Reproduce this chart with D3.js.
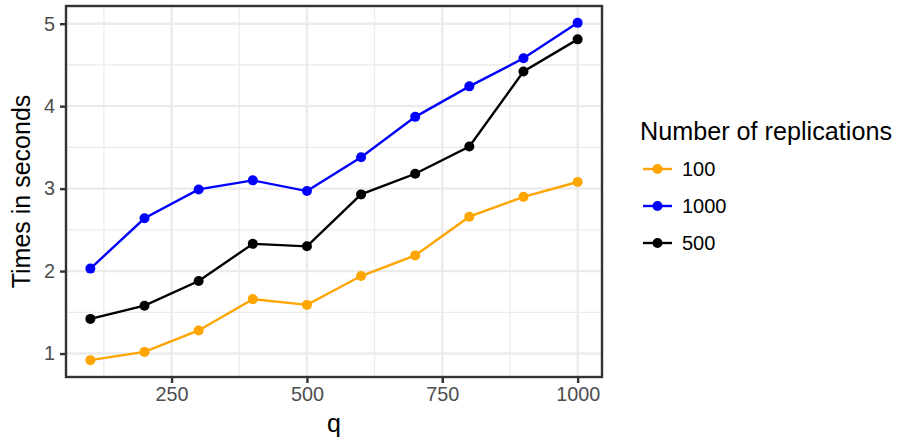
<!DOCTYPE html>
<html>
<head>
<meta charset="utf-8">
<script src="https://cdn.jsdelivr.net/npm/d3@7"></script>
<style>
  body { margin: 0; background: #fff; }
  svg { display: block; font-family: "Liberation Sans", Arial, sans-serif; }
</style>
</head>
<body>
<svg width="898" height="443"></svg>
<script>
// data
var q = [100, 200, 300, 400, 500, 600, 700, 800, 900, 1000];
var times100 = [0.92, 1.02, 1.28, 1.66, 1.59, 1.94, 2.19, 2.66, 2.90, 3.08];
var times1000 = [2.03, 2.64, 2.99, 3.10, 2.97, 3.38, 3.87, 4.24, 4.58, 5.01];
var times500 = [1.42, 1.58, 1.88, 2.33, 2.30, 2.93, 3.18, 3.51, 4.42, 4.81];
var seriesNames = ["100", "1000", "500"];
var seriesColors = ["orange", "blue", "black"];
var xTicks = [250, 500, 750, 1000];
var xMinor = [125, 375, 625, 875];
var yTicks = [1, 2, 3, 4, 5];
var yMinor = [1.5, 2.5, 3.5, 4.5];

var series = [
  { name: seriesNames[0], color: seriesColors[0], values: times100 },
  { name: seriesNames[1], color: seriesColors[1], values: times1000 },
  { name: seriesNames[2], color: seriesColors[2], values: times500 }
];

var svg = d3.select("svg");
var pLeft = 66, pRight = 602, pTop = 6, pBottom = 377;

// ggplot style 5% expansion
var xPad = (d3.max(q) - d3.min(q)) * 0.05;
var allY = times100.concat(times1000, times500);
var yPad = (d3.max(allY) - d3.min(allY)) * 0.05;

var x = d3.scaleLinear()
  .domain([d3.min(q) - xPad, d3.max(q) + xPad])
  .range([pLeft, pRight]);
var y = d3.scaleLinear()
  .domain([d3.min(allY) - yPad, d3.max(allY) + yPad])
  .range([pBottom, pTop]);

var grid = svg.append("g");
grid.selectAll(".xminor").data(xMinor).enter().append("line")
  .attr("x1", x).attr("x2", x).attr("y1", pTop).attr("y2", pBottom)
  .attr("stroke", "#ebebeb").attr("stroke-width", 1.2);
grid.selectAll(".yminor").data(yMinor).enter().append("line")
  .attr("y1", y).attr("y2", y).attr("x1", pLeft).attr("x2", pRight)
  .attr("stroke", "#ebebeb").attr("stroke-width", 1.2);
grid.selectAll(".xmajor").data(xTicks).enter().append("line")
  .attr("x1", x).attr("x2", x).attr("y1", pTop).attr("y2", pBottom)
  .attr("stroke", "#ebebeb").attr("stroke-width", 2.4);
grid.selectAll(".ymajor").data(yTicks).enter().append("line")
  .attr("y1", y).attr("y2", y).attr("x1", pLeft).attr("x2", pRight)
  .attr("stroke", "#ebebeb").attr("stroke-width", 2.4);

var line = d3.line()
  .x(function(d, i) { return x(q[i]); })
  .y(function(d) { return y(d); });

var groups = svg.selectAll(".series").data(series).enter().append("g");
groups.append("path")
  .attr("d", function(d) { return line(d.values); })
  .attr("fill", "none")
  .attr("stroke", function(d) { return d.color; })
  .attr("stroke-width", 2.4);
groups.selectAll("circle")
  .data(function(d) { return d.values.map(function(v, i) { return { v: v, i: i, color: d.color }; }); })
  .enter().append("circle")
  .attr("cx", function(d) { return x(q[d.i]); })
  .attr("cy", function(d) { return y(d.v); })
  .attr("r", 5)
  .attr("fill", function(d) { return d.color; });

// panel border
svg.append("rect")
  .attr("x", pLeft).attr("y", pTop)
  .attr("width", pRight - pLeft).attr("height", pBottom - pTop)
  .attr("fill", "none").attr("stroke", "#333333").attr("stroke-width", 2.4);

// axes
var xAxis = d3.axisBottom(x).tickValues(xTicks).tickFormat(d3.format("d")).tickSize(6).tickPadding(4);
var gx = svg.append("g").attr("transform", "translate(0," + pBottom + ")").call(xAxis);
var yAxis = d3.axisLeft(y).tickValues(yTicks).tickFormat(d3.format("d")).tickSize(6).tickPadding(5);
var gy = svg.append("g").attr("transform", "translate(" + pLeft + ",0)").call(yAxis);
[gx, gy].forEach(function(g) {
  g.select(".domain").remove();
  g.selectAll(".tick line").attr("stroke", "#333333").attr("stroke-width", 2.4);
  g.selectAll(".tick text").attr("fill", "#4d4d4d")
    .style("font-size", "19.8px").style("font-family", "Liberation Sans, Arial, sans-serif");
});

svg.append("text")
  .attr("x", (pLeft + pRight) / 2).attr("y", 432)
  .attr("text-anchor", "middle").style("font-size", "25px")
  .text("q");
svg.append("text")
  .attr("transform", "translate(30," + (pTop + pBottom) / 2 + ") rotate(-90)")
  .attr("text-anchor", "middle").style("font-size", "25px")
  .text("Times in seconds");

// legend
var legend = svg.append("g");
legend.append("text")
  .attr("x", 640).attr("y", 140)
  .style("font-size", "25.2px")
  .text("Number of replications");
var items = legend.selectAll(".item").data(series).enter().append("g")
  .attr("transform", function(d, i) { return "translate(0," + (169 + i * 37) + ")"; });
items.append("line")
  .attr("x1", 643).attr("x2", 672).attr("y1", 0).attr("y2", 0)
  .attr("stroke", function(d) { return d.color; }).attr("stroke-width", 2.4);
items.append("circle")
  .attr("cx", 657.5).attr("cy", 0).attr("r", 5)
  .attr("fill", function(d) { return d.color; });
items.append("text")
  .attr("x", 682).attr("y", 7)
  .style("font-size", "20px")
  .text(function(d) { return d.name; });
</script>
</body>
</html>
